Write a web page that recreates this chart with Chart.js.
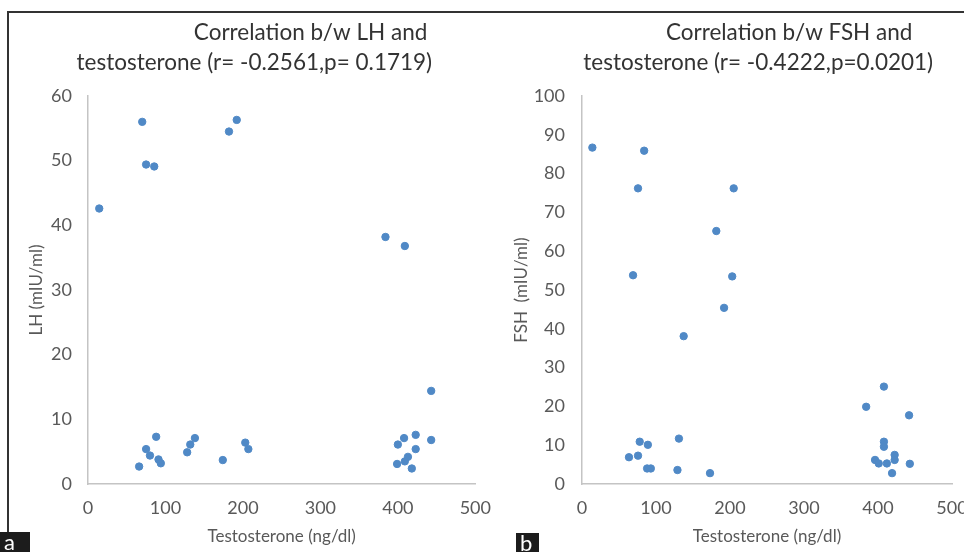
<!DOCTYPE html>
<html>
<head>
<meta charset="utf-8">
<script src="https://cdn.jsdelivr.net/npm/chart.js@4.4.1/dist/chart.umd.min.js"></script>
<style>
    html, body { margin: 0; padding: 0; background: #fff; }
    body { width: 964px; height: 552px; position: relative; overflow: hidden; font-family: Lato, sans-serif; }
    .marco { position: absolute; left: 7px; top: 11px; width: 980px; height: 580px; border-left: 2px solid #333; border-top: 2px solid #333; }
    .lienzo { position: absolute; top: 14px; height: 538px; }
    #lhChart { left: 10px; width: 494px; }
    #fshChart { left: 508px; width: 508px; }
    .etiqueta { position: absolute; background: #1c1c1c; color: #fff; font-size: 22px; line-height: 20px; padding-left: 4px; box-sizing: border-box; }
</style>
</head>
<body>
<div class="marco"></div>
<div class="lienzo" id="lhChart"><canvas id="lhCanvas" width="494" height="538"></canvas></div>
<div class="lienzo" id="fshChart"><canvas id="fshCanvas" width="508" height="538"></canvas></div>
<div class="etiqueta" style="left:0;top:532px;width:30px;height:20px;">a</div>
<div class="etiqueta" style="left:516px;top:533px;width:23px;height:19px;">b</div>

<script>
// Datos
const testosteronaLH = [14.5, 66, 70, 75, 75, 80, 85.5, 88, 91, 94, 128, 132, 138, 174, 182, 192, 203, 207,
    384, 399, 400, 408, 409, 409, 413, 418, 423, 423, 443, 443];
const valoresLH = [42.6, 2.7, 56.0, 49.4, 5.4, 4.4, 49.1, 7.3, 3.8, 3.2, 4.9, 6.1, 7.1, 3.7, 54.5, 56.3, 6.4, 5.4,
    38.2, 3.1, 6.1, 7.1, 3.5, 36.8, 4.2, 2.4, 7.6, 5.4, 14.4, 6.8];

const testosteronaFSH = [14, 63.5, 69, 75.7, 75.7, 78, 84, 88, 89, 93, 129, 131, 137.4, 173, 181.5, 192, 203, 205,
    384, 396, 401, 408, 408, 408, 412, 419, 422.5, 422.5, 442, 443];
const valoresFSH = [86.7, 6.9, 53.8, 7.3, 76.2, 10.9, 85.9, 4.0, 10.1, 4.0, 3.6, 11.7, 38.1, 2.8, 65.2, 45.4, 53.5, 76.2,
    19.9, 6.2, 5.3, 25.1, 10.9, 9.6, 5.3, 2.8, 7.5, 6.2, 17.7, 5.2];

const ticksX = [0, 100, 200, 300, 400, 500];
const ticksLH = [0, 10, 20, 30, 40, 50, 60];
const ticksFSH = [0, 10, 20, 30, 40, 50, 60, 70, 80, 90, 100];

// espacios al inicio para desplazar cada línea como en el original
const tituloLH = ['\u2003\u2003\u2003\u2003\u2003\u2003\u2003Correlation b/w LH and', '\u2009\u2009testosterone (r= -0.2561,p= 0.1719)'];
const tituloFSH = ['\u2003\u2003\u2003\u2003\u2003\u2003\u2002\u2009Correlation b/w FSH and', '\u2003\u2003\u2003\u2009testosterone (r= -0.4222,p=0.0201)'];

document.addEventListener('DOMContentLoaded', function() {
    crearGrafica('lhCanvas', testosteronaLH, valoresLH, ticksLH, tituloLH, 'LH (mIU/ml)',
        { left: 16, right: 27, top: 0, bottom: 5 }, 62, 16);
    crearGrafica('fshCanvas', testosteronaFSH, valoresFSH, ticksFSH, tituloFSH, 'FSH  (mIU/ml)',
        { left: 3, right: 64, top: 0, bottom: 5 }, 71, 17);
});

function crearGrafica(id, xs, ys, ticksY, titulo, tituloY, relleno, anchoEjeY, rellenoTicksY) {
    const ctx = document.getElementById(id).getContext('2d');
    const puntos = xs.map((x, i) => ({ x: x, y: ys[i] }));

    new Chart(ctx, {
        type: 'scatter',
        data: {
            datasets: [{
                data: puntos,
                backgroundColor: '#5089c6',
                borderColor: '#5089c6',
                pointRadius: 3.7,
                pointHoverRadius: 3.7
            }]
        },
        options: {
            responsive: false,
            animation: false,
            layout: { padding: relleno },
            plugins: {
                legend: { display: false },
                tooltip: { enabled: false },
                title: {
                    display: true,
                    text: titulo,
                    color: '#333',
                    font: { family: 'Lato', size: 22.5, weight: 'normal', lineHeight: 1.333 },
                    padding: { top: 4, bottom: 18 }
                }
            },
            scales: {
                x: {
                    type: 'linear',
                    min: ticksX[0],
                    max: ticksX[ticksX.length - 1],
                    afterBuildTicks: (escala) => { escala.ticks = ticksX.map(v => ({ value: v })); },
                    afterFit: (escala) => { escala.height = 63; },
                    grid: { display: false, drawTicks: false },
                    border: { display: true, color: '#c4c4c4', width: 1.5 },
                    ticks: { color: '#595959', padding: 13, font: { family: 'Lato', size: 18 } },
                    title: {
                        display: true,
                        text: 'Testosterone (ng/dl)',
                        color: '#595959',
                        font: { family: 'Lato', size: 17 },
                        padding: { top: 0, bottom: 0 }
                    }
                },
                y: {
                    type: 'linear',
                    min: ticksY[0],
                    max: ticksY[ticksY.length - 1],
                    afterBuildTicks: (escala) => { escala.ticks = ticksY.map(v => ({ value: v })); },
                    afterFit: (escala) => { escala.width = anchoEjeY; },
                    grid: { display: false, drawTicks: false },
                    border: { display: true, color: '#c4c4c4', width: 1.5 },
                    ticks: { color: '#595959', padding: rellenoTicksY, font: { family: 'Lato', size: 18 } },
                    title: {
                        display: true,
                        text: tituloY,
                        color: '#595959',
                        font: { family: 'Lato', size: 17 },
                        padding: { top: 0, bottom: 0 }
                    }
                }
            }
        }
    });
}
</script>
</body>
</html>
